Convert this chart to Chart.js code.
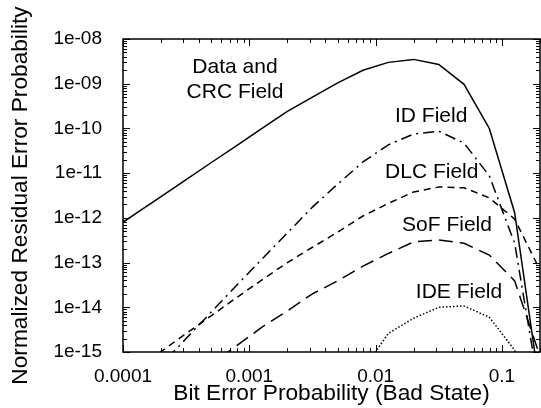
<!DOCTYPE html>
<html>
<head>
<meta charset="utf-8">
<script src="https://cdn.jsdelivr.net/npm/chart.js@4.4.1/dist/chart.umd.min.js"></script>
<style>
  html, body { margin: 0; padding: 0; background: #fff; }
</style>
</head>
<body>
<canvas id="graph" width="541" height="408"></canvas>
<script>
// x-Werte: Bitfehlerwahrscheinlichkeit (Bad State)
const bitErr = [7.94e-5, 1.26e-4, 2.0e-4, 3.16e-4, 5.01e-4, 7.94e-4, 1.26e-3, 2.0e-3, 3.16e-3,
  5.01e-3, 7.94e-3, 0.0126, 0.02, 0.0316, 0.0501, 0.0794, 0.126, 0.2];

// Restfehlerwahrscheinlichkeiten je Feld
const dataCrcField = [5.1e-13, 1.25e-12, 3.0e-12, 7.2e-12, 1.73e-11, 4.1e-11, 1.0e-10, 2.4e-10, 5.0e-10,
  1.04e-9, 2.0e-9, 3.0e-9, 3.5e-9, 2.7e-9, 9.7e-10, 1.0e-10, 1.3e-12, 1.5e-16];
const idField = [null, 1.3e-16, 5.1e-16, 2.0e-15, 7.9e-15, 3.1e-14, 1.2e-13, 4.6e-13, 1.74e-12,
  5.7e-12, 1.78e-11, 4.3e-11, 7.5e-11, 8.7e-11, 4.7e-11, 8.7e-12, 2.7e-13, 1.15e-16];
const dlcField = [1.6e-16, 4.1e-16, 1.02e-15, 2.6e-15, 6.5e-15, 1.65e-14, 4.1e-14, 1.0e-13, 2.2e-13,
  4.8e-13, 1.1e-12, 2.1e-12, 3.8e-12, 4.9e-12, 4.7e-12, 2.8e-12, 9.4e-13, 6.8e-14];
const sofField = [null, null, null, 2.0e-16, 5.4e-16, 1.38e-15, 3.6e-15, 8.3e-15, 2.0e-14,
  3.9e-14, 8.3e-14, 1.6e-13, 2.9e-13, 3.2e-13, 2.7e-13, 1.47e-13, 3.9e-14, 8e-16];
const ideField = [null, null, null, null, null, null, null, null, null,
  null, 4e-16, 2.6e-15, 5.7e-15, 1.0e-14, 1.07e-14, 6.0e-15, 1.1e-15, 1e-17];

const xTicks = [0.0001, 0.001, 0.01, 0.1];
const xTickLabels = ["0.0001", "0.001", "0.01", "0.1"];
const yTicks = [1e-15, 1e-14, 1e-13, 1e-12, 1e-11, 1e-10, 1e-9, 1e-8];
const yTickLabels = ["1e-15", "1e-14", "1e-13", "1e-12", "1e-11", "1e-10", "1e-09", "1e-08"];

// Beschriftungen im Diagramm (Datenkoordinaten)
const fieldLabels = [
  { text: "Data and", x: 7.7e-4, y: 2.37e-9 },
  { text: "CRC Field", x: 7.7e-4, y: 6.5e-10 },
  { text: "ID Field", x: 0.0275, y: 1.9e-10 },
  { text: "DLC Field", x: 0.0278, y: 1.06e-11 },
  { text: "SoF Field", x: 0.0367, y: 6.9e-13 },
  { text: "IDE Field", x: 0.0457, y: 2.19e-14 },
];

const FONT = "'Liberation Sans', Arial, Helvetica, sans-serif";

function toPoints(values) {
  return bitErr.map((x, i) => ({ x: x, y: values[i] }));
}

function lineSet(values, dash) {
  return {
    data: toPoints(values),
    borderColor: "#000",
    borderWidth: 1.5,
    borderDash: dash,
    pointRadius: 0,
    pointHoverRadius: 0,
    fill: false,
  };
}

//Rahmen mit Ticks nach innen auf allen vier Seiten
const frameTicks = {
  id: "frameTicks",
  afterDraw(chart) {
    const { ctx, chartArea: a, scales: { x, y } } = chart;
    ctx.save();
    ctx.strokeStyle = "#000";
    ctx.lineWidth = 1;
    ctx.beginPath();
    for (let e = Math.floor(Math.log10(x.min)); e <= Math.ceil(Math.log10(x.max)); e++) {
      for (let m = 1; m <= 9; m++) {
        const v = m * Math.pow(10, e);
        if (v < x.min * 0.999 || v > x.max * 1.001) continue;
        const px = Math.round(x.getPixelForValue(v)) + 0.5;
        const len = m === 1 ? 7 : 4;
        ctx.moveTo(px, a.bottom);
        ctx.lineTo(px, a.bottom - len);
        ctx.moveTo(px, a.top);
        ctx.lineTo(px, a.top + len);
      }
    }
    for (let e = Math.floor(Math.log10(y.min)); e <= Math.ceil(Math.log10(y.max)); e++) {
      for (let m = 1; m <= 9; m++) {
        const v = m * Math.pow(10, e);
        if (v < y.min * 0.999 || v > y.max * 1.001) continue;
        const py = Math.round(y.getPixelForValue(v)) + 0.5;
        const len = m === 1 ? 7 : 4;
        ctx.moveTo(a.left, py);
        ctx.lineTo(a.left + len, py);
        ctx.moveTo(a.right, py);
        ctx.lineTo(a.right - len, py);
      }
    }
    ctx.stroke();
    ctx.lineWidth = 1.5;
    ctx.strokeRect(a.left, a.top, a.right - a.left, a.bottom - a.top);
    ctx.restore();
  },
};

const fieldText = {
  id: "fieldText",
  afterDatasetsDraw(chart) {
    const { ctx, scales: { x, y } } = chart;
    ctx.save();
    ctx.font = "21px " + FONT;
    ctx.fillStyle = "#000";
    ctx.textAlign = "center";
    ctx.textBaseline = "middle";
    fieldLabels.forEach((l) => {
      ctx.fillText(l.text, x.getPixelForValue(l.x), y.getPixelForValue(l.y));
    });
    ctx.restore();
  },
};

new Chart(document.getElementById("graph").getContext("2d"), {
  type: "line",
  data: {
    datasets: [
      lineSet(dataCrcField, []),
      lineSet(idField, [11, 5, 2, 5]),
      lineSet(dlcField, [7, 5]),
      lineSet(sofField, [14, 7]),
      lineSet(ideField, [1.5, 2]),
    ],
  },
  options: {
    responsive: false,
    animation: false,
    events: [],
    layout: { padding: { top: 39, right: 1, left: 0, bottom: 0 } },
    plugins: {
      legend: { display: false },
      tooltip: { enabled: false },
    },
    scales: {
      x: {
        type: "logarithmic",
        min: 0.0001,
        max: 0.2,
        afterBuildTicks: (scale) => {
          scale.ticks = xTicks.map((v) => ({ value: v }));
        },
        afterFit: (scale) => {
          scale.height = 56;
        },
        grid: { display: false },
        border: { display: false },
        ticks: {
          padding: 5,
          maxRotation: 0,
          autoSkip: false,
          color: "#000",
          font: { family: FONT, size: 19 },
          callback: (value, index) => xTickLabels[index],
        },
        title: {
          display: true,
          text: "Bit Error Probability (Bad State)",
          color: "#000",
          font: { family: FONT, size: 22.7 },
          padding: { top: 0, bottom: 1 },
        },
      },
      y: {
        type: "logarithmic",
        min: 1e-15,
        max: 1e-8,
        afterBuildTicks: (scale) => {
          scale.ticks = yTicks.map((v) => ({ value: v }));
        },
        afterFit: (scale) => {
          scale.width = 123;
        },
        grid: { display: false },
        border: { display: false },
        ticks: {
          padding: 13,
          autoSkip: false,
          color: "#000",
          font: { family: FONT, size: 19 },
          callback: (value, index) => yTickLabels[index],
        },
        title: {
          display: true,
          text: "Normalized Residual Error Probability",
          color: "#000",
          font: { family: FONT, size: 22.7 },
          padding: { top: 7, bottom: 0 },
        },
      },
    },
  },
  plugins: [frameTicks, fieldText],
});
</script>
</body>
</html>
